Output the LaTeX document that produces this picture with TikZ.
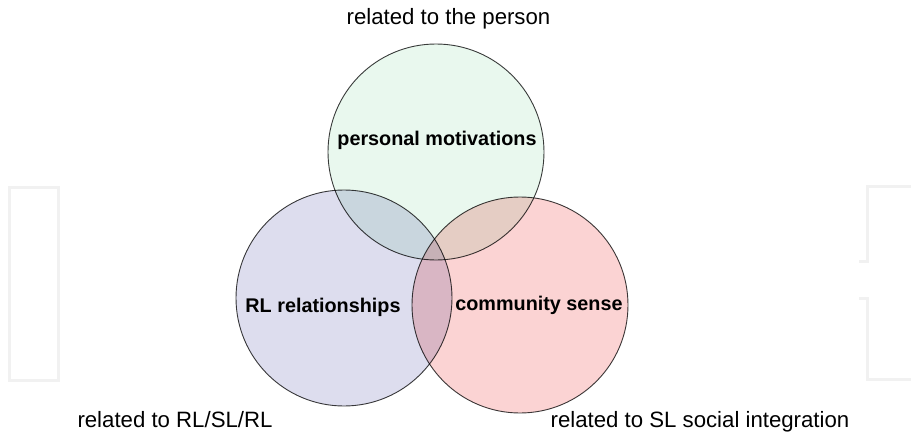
\documentclass[tikz,border=0pt]{standalone}
\usepackage{fontspec}
\setmainfont{Liberation Sans}
\definecolor{topfill}{HTML}{E9F8EE}
\definecolor{leftfill}{HTML}{DDDDEE}
\definecolor{rightfill}{HTML}{FBD3D3}
\definecolor{ringline}{HTML}{3C3C3C}
\definecolor{frameline}{HTML}{F1F1F1}
\tikzset{
  ring/.style={circle, minimum size=216pt, inner sep=0pt, draw=ringline, line width=0.9pt},
  ringlabel/.style={font=\fontsize{19.8}{22}\selectfont\bfseries, inner sep=0pt, anchor=base},
  sidelabel/.style={font=\fontsize{22.2}{24}\selectfont, inner sep=0pt, anchor=base},
  frame/.style={draw=frameline, line width=3pt}
}
\begin{document}
\begin{tikzpicture}[x=1pt, y=-1pt]
\useasboundingbox (0,0) rectangle (911,436);
% faint background frames
\draw[frame] (9,187) rectangle (58,380);
\draw[frame] (911,186) -- (867,186) -- (867,261) -- (859,261);
\draw[frame] (859,298) -- (867,298) -- (867,379) -- (911,379);
% circles
\begin{scope}[blend mode=multiply]
\node[ring, fill=leftfill] (left) at (344,298) {};
\node[ring, fill=rightfill] (right) at (520,305) {};
\node[ring, fill=topfill] (top) at (436,152) {};
\end{scope}
% labels in circles
\node[ringlabel] (pm) at (437,146) {personal motivations};
\node[ringlabel] (rl) at (323,312) {RL relationships};
\node[ringlabel] (cs) at (539,310) {community sense};
% outer labels
\node[sidelabel] (tl) at (448.5,25) {related to the person};
\node[sidelabel] (bl) at (175,427) {related to RL/SL/RL};
\node[sidelabel] (br) at (700,427) {related to SL social integration};
\end{tikzpicture}
\end{document}
